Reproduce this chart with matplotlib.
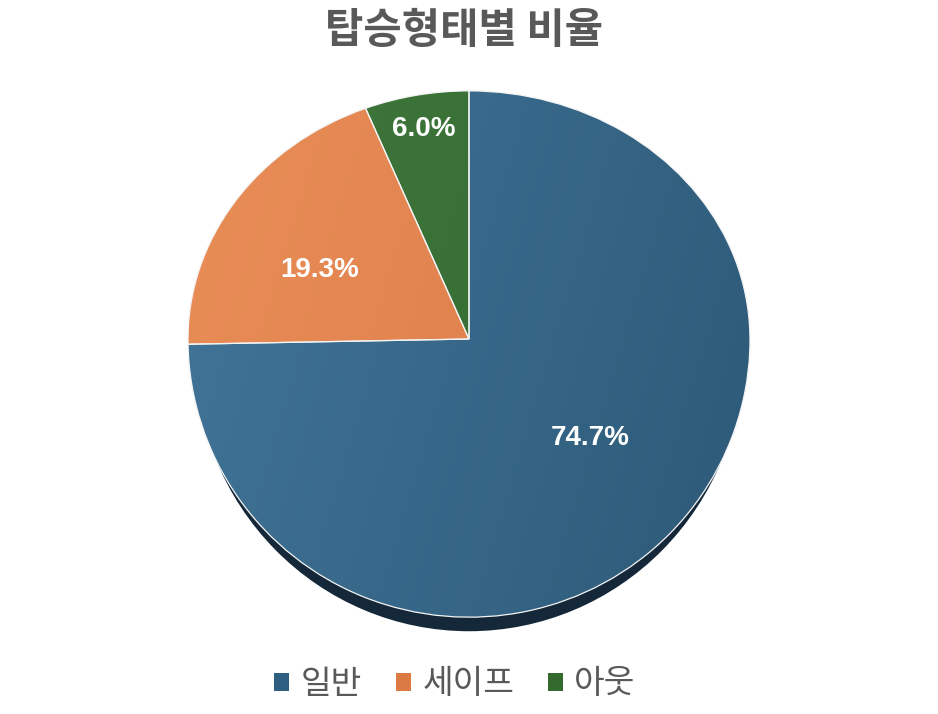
import numpy as np
import matplotlib.pyplot as plt
from matplotlib.patches import PathPatch, Patch, Circle
from matplotlib.path import Path
from matplotlib.colors import LinearSegmentedColormap

labels = ['일반', '세이프', '아웃']
shares = [74.7, 19.3, 6.0]
light_colors = ['#42769a', '#ea8e58', '#3f773c']
dark_colors = ['#2d5977', '#d77845', '#346931']
legend_colors = ['#2e5f80', '#dc7a44', '#356a2f']

# label placement inside each slice (radius fraction, angle nudge in deg)
label_r = [0.56, 0.60, 0.86]
label_turn = [5, 6, 0]

TOP, BOTTOM = 0.883, 0.99   # slight perspective: upper half flatter than lower half

def squash(xy):
    xy = np.array(xy, dtype=float)
    xy[:, 1] = np.where(xy[:, 1] > 0, xy[:, 1] * TOP, xy[:, 1] * BOTTOM)
    return xy

plt.rcParams['font.family'] = ['Noto Sans CJK KR', 'DejaVu Sans']

fig = plt.figure(figsize=(9.38, 7.14), dpi=100)
ax = fig.add_axes([0, 0, 1, 1])

wedges, texts, autotexts = ax.pie(shares, startangle=90, counterclock=False,
                                  autopct='%1.1f%%', radius=1, center=(0, 0))

# shadow under the pie
circ = Circle((0, 0), 1)
cpath = circ.get_patch_transform().transform_path(circ.get_path())
sv = squash(cpath.vertices)
sv[:, 0] *= 0.975
sv[:, 1] -= 0.05
ax.add_patch(PathPatch(Path(sv, cpath.codes), facecolor='#15283a', edgecolor='none', zorder=1))

X, Y = np.meshgrid(np.linspace(-1, 1, 300), np.linspace(-1, 1, 300))
grad = (X - 0.3 * Y)
grad = (grad - grad.min()) / (grad.max() - grad.min())

for w, c0, c1 in zip(wedges, light_colors, dark_colors):
    path = w.get_patch_transform().transform_path(w.get_path())
    shape = PathPatch(Path(squash(path.vertices), path.codes), facecolor='none',
                      edgecolor='#f4f4f4', lw=0.9, zorder=3)
    w.set_visible(False)
    ax.add_patch(shape)
    cmap = LinearSegmentedColormap.from_list('g', [c0, c1])
    im = ax.imshow(grad, cmap=cmap, extent=(-1, 1, -1, 1), origin='lower',
                   aspect='auto', interpolation='bilinear', zorder=2)
    im.set_clip_path(shape)

for w, t, r, turn in zip(wedges, autotexts, label_r, label_turn):
    a = np.deg2rad((w.theta1 + w.theta2) / 2 + turn)
    pos = squash([[r * np.cos(a), r * np.sin(a)]])[0]
    t.set_position(pos)
    t.set(color='white', fontsize=20, fontweight='bold', family='Liberation Sans',
          ha='center', va='center', zorder=4)

cx, cy, r_px = 469, 339, 281
ax.set_aspect('auto')
ax.set_xlim(-cx / r_px, (938 - cx) / r_px)
ax.set_ylim(-(714 - cy) / r_px, cy / r_px)
ax.axis('off')

fig.text(0.495, 1 - 31 / 714, '탑승형태별 비율', ha='center', va='center',
         fontsize=30, fontweight='bold', color='#595959')

handles = [Patch(facecolor=c, edgecolor='none') for c in legend_colors]
fig.legend(handles, labels, loc='center', bbox_to_anchor=(0.485, 1 - 684 / 714),
           ncol=3, frameon=False, fontsize=24, handlelength=0.45, handleheight=0.45,
           handletextpad=0.35, columnspacing=1.0, labelcolor='#595959')

fig.savefig('out.png', dpi=100)
